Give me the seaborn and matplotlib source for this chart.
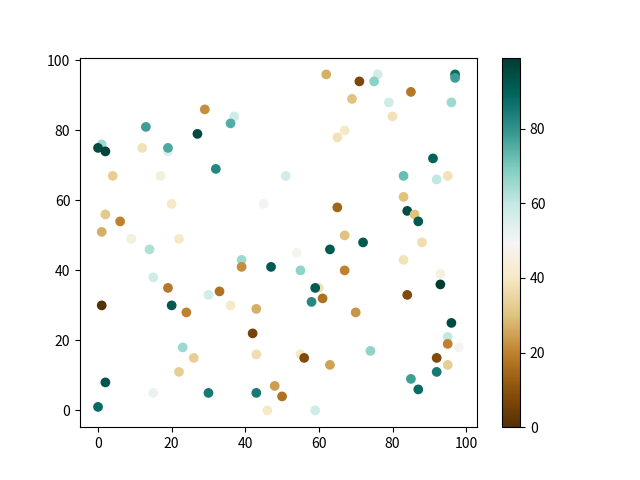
import matplotlib
matplotlib.use("Agg")
import matplotlib.pyplot as plt
import seaborn as sns
import pandas as pd

plt.rcParams["font.family"] = ["Noto Sans CJK SC", "DejaVu Sans"]

xs = [29, 37, 36, 13, 27, 1, 0, 2, 12, 19, 19, 32, 4, 17, 20, 45, 2, 6, 1, 9, 22,
      62, 71, 76, 75, 97, 97, 85, 69, 79, 96, 80, 67, 65, 91, 51, 83, 92, 95, 83, 65,
      84, 86, 87, 67, 72, 88,
      14, 39, 39, 47, 15, 19, 30, 33, 1, 20, 36, 43, 24, 42, 23, 26, 43, 22, 2, 15,
      30, 43, 48, 50, 0, 46,
      54, 63, 55, 67, 83, 93, 93, 60, 59, 61, 58, 84, 70, 96, 95, 95, 98, 55, 56, 63,
      74, 92, 95, 92, 85, 87, 59]
ys = [86, 84, 82, 81, 79, 76, 75, 74, 75, 74, 75, 69, 67, 67, 59, 59, 56, 54, 51, 49, 49,
      96, 94, 96, 94, 96, 95, 91, 89, 88, 88, 84, 80, 78, 72, 67, 67, 66, 67, 61, 58,
      57, 56, 54, 50, 48, 48,
      46, 43, 41, 41, 38, 35, 33, 34, 30, 30, 30, 29, 28, 22, 18, 15, 16, 11, 8, 5,
      5, 5, 7, 4, 1, 0,
      45, 46, 40, 40, 43, 39, 36, 35, 35, 32, 31, 33, 28, 25, 21, 19, 18, 16, 15, 13,
      17, 15, 13, 11, 9, 6, 0]
colors = [22, 58, 75, 78, 95, 65, 95, 97, 38, 55, 76, 82, 33, 45, 40, 50, 32, 20, 27, 45, 40,
          27, 7, 57, 68, 88, 78, 18, 30, 58, 65, 38, 40, 38, 90, 57, 72, 60, 38, 30, 14,
          95, 30, 92, 30, 92, 37,
          63, 65, 22, 92, 58, 18, 57, 17, 0, 92, 40, 27, 20, 6, 65, 33, 37, 33, 93, 52,
          85, 85, 24, 17, 88, 40,
          48, 92, 67, 20, 38, 45, 99, 38, 92, 17, 82, 8, 23, 95, 60, 20, 48, 40, 8, 25,
          67, 8, 33, 85, 78, 88, 58]

df = pd.DataFrame({"x": xs, "y": ys, "c": colors})
norm = plt.Normalize(min(colors), max(colors))

fig, ax = plt.subplots(figsize=(6.4, 4.8), dpi=100)
sns.scatterplot(data=df, x="x", y="y", hue="c", palette="BrBG", hue_norm=norm,
                s=36, linewidth=1, edgecolor="face", legend=False, ax=ax)
ax.set_xlabel("")
ax.set_ylabel("")

sm = plt.cm.ScalarMappable(cmap="BrBG", norm=norm)
fig.colorbar(sm, ax=ax)

fig.savefig("out.png", dpi=100)
